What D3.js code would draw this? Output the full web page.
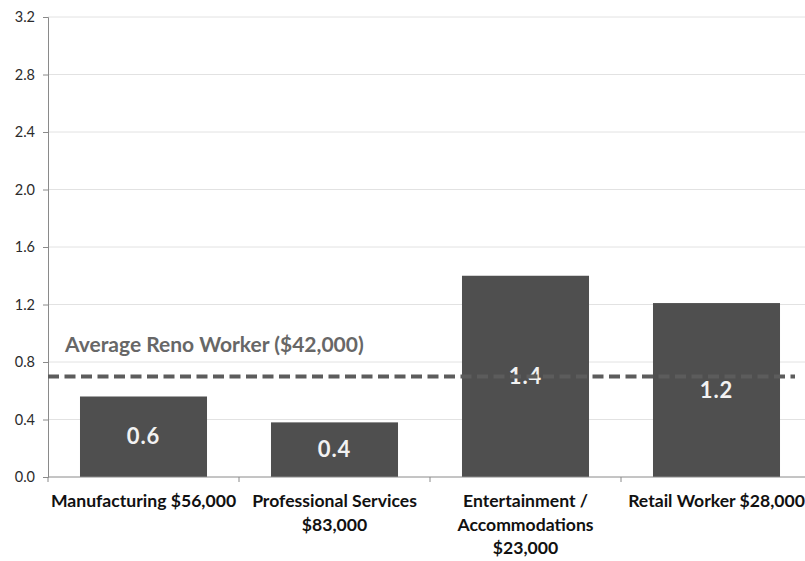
<!DOCTYPE html>
<html>
<head>
<meta charset="utf-8">
<script src="https://cdn.jsdelivr.net/npm/d3@7/dist/d3.min.js"></script>
<style>
  html, body { margin: 0; padding: 0; background: #fff; }
  svg { display: block; }
  text { font-family: Lato, "Open Sans", sans-serif; }
</style>
</head>
<body>
<svg id="chart" width="805" height="561"></svg>
<script>
// Occupation categories (label lines) and their ratio values
const categories = [
  ["Manufacturing $56,000"],
  ["Professional Services", "$83,000"],
  ["Entertainment /", "Accommodations", "$23,000"],
  ["Retail Worker $28,000"]
];
const values = [0.56, 0.38, 1.4, 1.21];
const yTicks = [0.0, 0.4, 0.8, 1.2, 1.6, 2.0, 2.4, 2.8, 3.2];
const averageValue = 0.7;
const averageLabel = "Average Reno Worker ($42,000)";

const svg = d3.select("#chart");
const margin = { left: 48, top: 17, bottom: 84 };
const plotW = 764;
const height = 561;

const x = d3.scaleBand()
  .domain(d3.range(categories.length))
  .range([margin.left, margin.left + plotW])
  .paddingInner(0.335)
  .paddingOuter(0.1675);

const y = d3.scaleLinear()
  .domain([0, 3.2])
  .range([height - margin.bottom, margin.top]);

// horizontal gridlines
svg.append("g")
  .selectAll("line")
  .data(yTicks.slice(1))
  .join("line")
  .attr("x1", margin.left)
  .attr("x2", 805)
  .attr("y1", d => y(d))
  .attr("y2", d => y(d))
  .attr("stroke", "#e2e2e2")
  .attr("stroke-width", 1);

// y axis
const yAxis = svg.append("g")
  .attr("transform", `translate(${margin.left},0)`)
  .call(d3.axisLeft(y).tickValues(yTicks).tickFormat(d3.format(".1f")).tickSize(5).tickPadding(8));
yAxis.select(".domain").attr("stroke", "#8a8a8a");
yAxis.selectAll(".tick line").attr("stroke", "#8a8a8a");
yAxis.selectAll(".tick text")
  .attr("fill", "#2b2b2b")
  .style("font-size", "14.5px")
  .style("font-family", "Lato, sans-serif");

// bars
svg.append("g")
  .selectAll("rect")
  .data(values)
  .join("rect")
  .attr("x", (d, i) => x(i))
  .attr("y", d => y(d))
  .attr("width", x.bandwidth())
  .attr("height", d => y(0) - y(d))
  .attr("fill", "#4f4f4f");

// x axis
const xAxisG = svg.append("g")
  .attr("transform", `translate(0,${y(0)})`);
xAxisG.append("line")
  .attr("x1", margin.left).attr("x2", 805)
  .attr("y1", 0).attr("y2", 0)
  .attr("stroke", "#8a8a8a");
const step = x.step();
xAxisG.selectAll("line.tk")
  .data(d3.range(categories.length + 1))
  .join("line")
  .attr("class", "tk")
  .attr("x1", i => margin.left + i * step)
  .attr("x2", i => margin.left + i * step)
  .attr("y1", 0).attr("y2", 5)
  .attr("stroke", "#8a8a8a");

// category labels
const catText = svg.append("g")
  .selectAll("text")
  .data(categories)
  .join("text")
  .attr("x", (d, i) => x(i) + x.bandwidth() / 2)
  .attr("y", 507)
  .attr("text-anchor", "middle")
  .attr("fill", "#111")
  .style("font-size", "17.6px")
  .style("font-weight", "bold");
catText.selectAll("tspan")
  .data(d => d)
  .join("tspan")
  .attr("x", function () { return d3.select(this.parentNode).attr("x"); })
  .attr("dy", (d, i) => i === 0 ? 0 : 23.5)
  .text(d => d);

// value labels inside bars
svg.append("g")
  .selectAll("text")
  .data(values)
  .join("text")
  .attr("x", (d, i) => x(i) + x.bandwidth() / 2)
  .attr("y", d => (y(d) + y(0)) / 2)
  .attr("dy", "0.35em")
  .attr("text-anchor", "middle")
  .attr("fill", "#f2f2f2")
  .style("font-size", "22px")
  .style("font-weight", "bold")
  .style("letter-spacing", "1px")
  .text(d => d3.format(".1f")(d));

// average worker reference line
svg.append("line")
  .attr("x1", margin.left)
  .attr("x2", 795)
  .attr("y1", y(averageValue))
  .attr("y2", y(averageValue))
  .attr("stroke", "#5c5c5c")
  .attr("stroke-width", 4)
  .attr("stroke-dasharray", "11,5.5");

svg.append("text")
  .attr("x", 65)
  .attr("y", 352)
  .attr("fill", "#676767")
  .style("font-size", "21px")
  .style("font-weight", "bold")
  .text(averageLabel);
</script>
</body>
</html>
